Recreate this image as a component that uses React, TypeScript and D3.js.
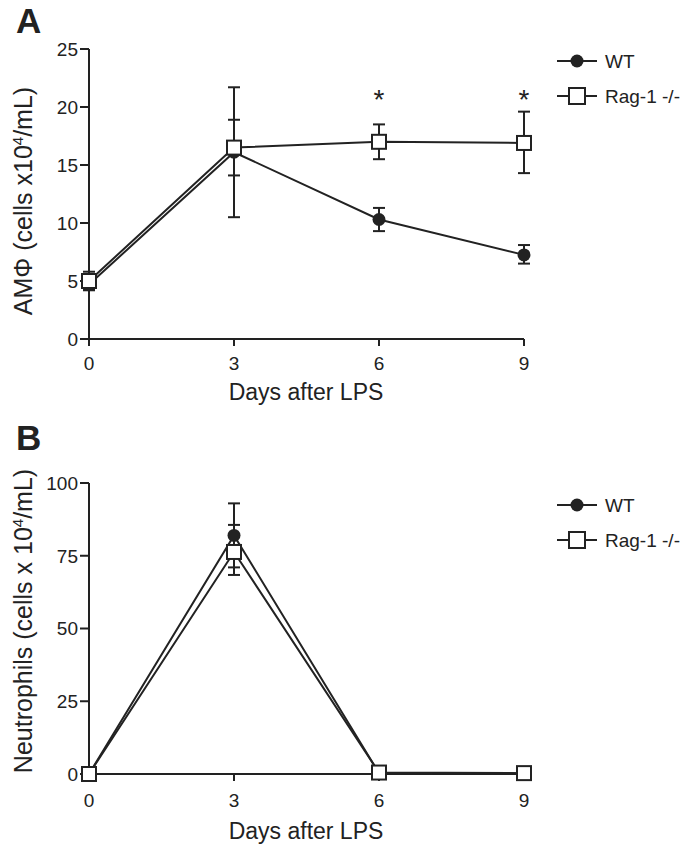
import React from "react";
import * as d3 from "d3";

const days = [0, 3, 6, 9];
const xTicks = [0, 3, 6, 9];

// Panel A: AMΦ
const aTicks = [0, 5, 10, 15, 20, 25];
const aWtMean = [4.7, 16.1, 10.3, 7.25];
const aWtLow = [4.2, 14.1, 9.3, 6.5];
const aWtHigh = [5.3, 18.9, 11.3, 8.1];
const aRagMean = [5.0, 16.5, 17.0, 16.9];
const aRagLow = [4.3, 10.5, 15.5, 14.3];
const aRagHigh = [5.8, 21.7, 18.5, 19.6];
const aStars = [6, 9];

// Panel B: Neutrophils
const bTicks = [0, 25, 50, 75, 100];
const bWtMean = [0, 82, 0.3, 0.2];
const bWtLow = [0, 71, 0, 0];
const bWtHigh = [0, 93, 0.6, 0.4];
const bRagMean = [0, 76.3, 0.5, 0.3];
const bRagLow = [0, 68.4, 0, 0];
const bRagHigh = [0, 85.6, 1.0, 0.6];

const seriesNames = ["WT", "Rag-1 -/-"];

const FONT = "'Liberation Sans', Arial, sans-serif";

type PanelProps = {
  top: number;
  bottom: number;
  yMax: number;
  ticks: number[];
  wt: [number[], number[], number[]];
  rag: [number[], number[], number[]];
  stars?: number[];
  letter: string;
  letterY: number;
  yLabel: React.ReactNode;
  yLabelMid: number;
  legendY: number;
  tickOff: number;
  titleOff: number;
};

function Panel(p: PanelProps) {
  const x = d3.scaleLinear().domain([0, 9]).range([89, 524]);
  const y = d3.scaleLinear().domain([0, p.yMax]).range([p.bottom, p.top]);
  const line = d3
    .line<number>()
    .x((_, i) => x(days[i]))
    .y((v) => y(v));
  const cap = 6;
  const errBars = (mean: number[], lo: number[], hi: number[], key: string) =>
    days.map((d, i) => (
      <g key={key + i}>
        <line x1={x(d)} x2={x(d)} y1={y(lo[i])} y2={y(hi[i])} stroke="#222" strokeWidth={2} />
        <line x1={x(d) - cap} x2={x(d) + cap} y1={y(lo[i])} y2={y(lo[i])} stroke="#222" strokeWidth={2} />
        <line x1={x(d) - cap} x2={x(d) + cap} y1={y(hi[i])} y2={y(hi[i])} stroke="#222" strokeWidth={2} />
      </g>
    ));
  return (
    <g>
      <text x={16} y={p.letterY} fontSize={35} fontWeight="bold" fontFamily={FONT} fill="#222">
        {p.letter}
      </text>
      {/* y axis */}
      <line x1={89} x2={89} y1={p.top} y2={p.bottom} stroke="#222" strokeWidth={2} />
      {p.ticks.map((t) => (
        <g key={"yt" + t}>
          <line x1={80} x2={89} y1={y(t)} y2={y(t)} stroke="#222" strokeWidth={2} />
          <text x={78} y={y(t)} dy="0.36em" textAnchor="end" fontSize={19} fontFamily={FONT} fill="#222">
            {t}
          </text>
        </g>
      ))}
      {/* x axis */}
      <line x1={89} x2={524} y1={p.bottom} y2={p.bottom} stroke="#222" strokeWidth={2} />
      {xTicks.map((t) => (
        <g key={"xt" + t}>
          <line x1={x(t)} x2={x(t)} y1={p.bottom} y2={p.bottom + 7} stroke="#222" strokeWidth={2} />
          <text x={x(t)} y={p.bottom + p.tickOff} textAnchor="middle" fontSize={19} fontFamily={FONT} fill="#222">
            {t}
          </text>
        </g>
      ))}
      <text x={306} y={p.bottom + p.titleOff} textAnchor="middle" fontSize={23} fontFamily={FONT} fill="#222">
        Days after LPS
      </text>
      <text
        transform={`translate(32,${p.yLabelMid}) rotate(-90)`}
        textAnchor="middle"
        fontSize={25}
        fontFamily={FONT}
        fill="#222"
      >
        {p.yLabel}
      </text>
      {/* error bars */}
      {errBars(p.rag[0], p.rag[1], p.rag[2], "re")}
      {errBars(p.wt[0], p.wt[1], p.wt[2], "we")}
      {/* lines */}
      <path d={line(p.wt[0]) || ""} fill="none" stroke="#222" strokeWidth={2} />
      <path d={line(p.rag[0]) || ""} fill="none" stroke="#222" strokeWidth={2} />
      {/* markers */}
      {days.map((d, i) => (
        <circle key={"wc" + i} cx={x(d)} cy={y(p.wt[0][i])} r={6.5} fill="#222" />
      ))}
      {days.map((d, i) => (
        <rect
          key={"rs" + i}
          x={x(d) - 7}
          y={y(p.rag[0][i]) - 7}
          width={14}
          height={14}
          fill="#fff"
          stroke="#222"
          strokeWidth={2}
        />
      ))}
      {(p.stars || []).map((d) => (
        <text key={"st" + d} x={x(d)} y={p.top + 60} textAnchor="middle" fontSize={28} fontFamily={FONT} fill="#222">
          *
        </text>
      ))}
      {/* legend */}
      <g>
        <line x1={557} x2={597} y1={p.legendY} y2={p.legendY} stroke="#222" strokeWidth={2} />
        <circle cx={577} cy={p.legendY} r={6.5} fill="#222" />
        <text x={605} y={p.legendY} dy="0.36em" fontSize={19} fontFamily={FONT} fill="#222">
          {seriesNames[0]}
        </text>
        <line x1={557} x2={597} y1={p.legendY + 35} y2={p.legendY + 35} stroke="#222" strokeWidth={2} />
        <rect x={569} y={p.legendY + 27} width={16} height={16} fill="#fff" stroke="#222" strokeWidth={2} />
        <text x={605} y={p.legendY + 35} dy="0.36em" fontSize={19} fontFamily={FONT} fill="#222">
          {seriesNames[1]}
        </text>
      </g>
    </g>
  );
}

export default function App() {
  return (
    <svg width={682} height={847} style={{ position: "absolute", left: 0, top: 0, background: "#fff" }}>
      <rect width={682} height={847} fill="#fff" />
      <Panel
        top={49}
        bottom={339}
        yMax={25}
        ticks={aTicks}
        wt={[aWtMean, aWtLow, aWtHigh]}
        rag={[aRagMean, aRagLow, aRagHigh]}
        stars={aStars}
        letter="A"
        letterY={33}
        legendY={61}
        yLabelMid={201}
        tickOff={31}
        titleOff={61}
        yLabel={
          <>
            AMΦ (cells x10<tspan dy={-9} fontSize={15}>4</tspan>
            <tspan dy={9}>/mL)</tspan>
          </>
        }
      />
      <Panel
        top={483}
        bottom={774}
        yMax={100}
        ticks={bTicks}
        wt={[bWtMean, bWtLow, bWtHigh]}
        rag={[bRagMean, bRagLow, bRagHigh]}
        letter="B"
        letterY={450}
        legendY={505}
        yLabelMid={621}
        tickOff={33}
        titleOff={65}
        yLabel={
          <>
            Neutrophils (cells x 10<tspan dy={-9} fontSize={15}>4</tspan>
            <tspan dy={9}>/mL)</tspan>
          </>
        }
      />
    </svg>
  );
}
